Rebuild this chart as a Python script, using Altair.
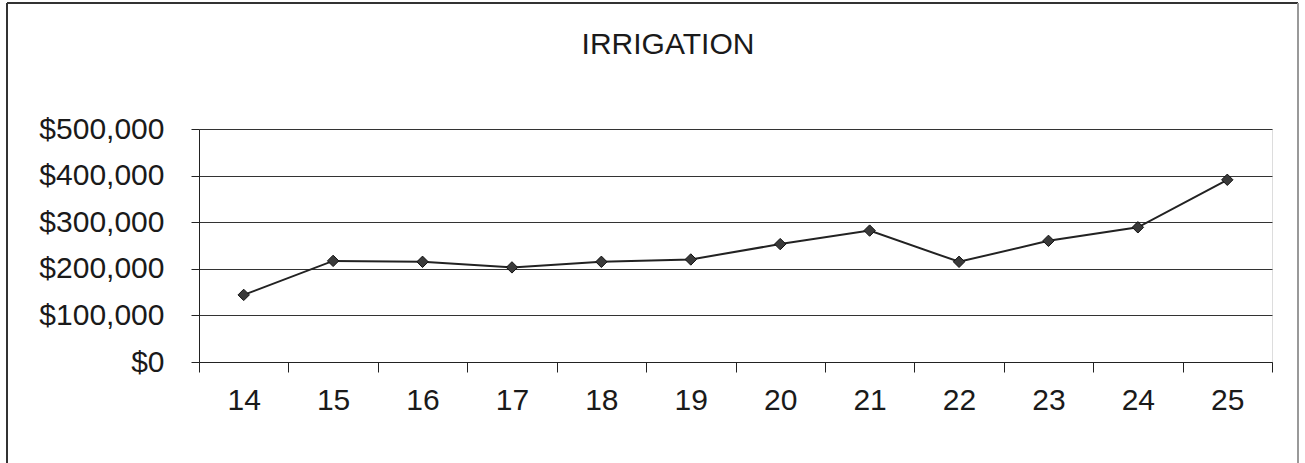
import altair as alt
import pandas as pd

years = ["14", "15", "16", "17", "18", "19", "20", "21", "22", "23", "24", "25"]
values = [144000, 217000, 215000, 203000, 215000, 220000, 253000, 282000, 215000, 260000, 289000, 391000]
y_ticks = [0, 100000, 200000, 300000, 400000, 500000]
chart_title = "IRRIGATION"

df = pd.DataFrame({"year": years, "value": values})

FONT = "Liberation Sans"
INK = "#222222"

x_enc = alt.X(
    "year:O",
    sort=years,
    scale=alt.Scale(type="band", paddingInner=0, paddingOuter=0),
    axis=alt.Axis(
        title=None, labelAngle=0, tickBand="extent", tickSize=10,
        labelPadding=13, labelFontSize=30, labelFont=FONT, labelColor="#1a1a1a",
        domainColor=INK, tickColor=INK, grid=False,
    ),
)
y_enc = alt.Y(
    "value:Q",
    scale=alt.Scale(domain=[0, 500000], nice=False),
    axis=alt.Axis(
        title=None, values=y_ticks, format="$,.0f", tickSize=8, labelPadding=27,
        labelFontSize=30, labelFont=FONT, labelColor="#1a1a1a",
        domainColor=INK, tickColor=INK, gridColor="#333333", gridWidth=1.2,
    ),
)

line = alt.Chart(df).mark_line(color=INK, strokeWidth=2).encode(x=x_enc, y=y_enc)
pts = alt.Chart(df).mark_point(
    shape="diamond", filled=True, size=130, color="#3a3a3a", stroke="#111111", strokeWidth=1, opacity=1
).encode(x=alt.X("year:O", sort=years), y="value:Q")

title_df = pd.DataFrame({"t": [chart_title]})
title_mark = alt.Chart(title_df).mark_text(
    font=FONT, fontSize=30, color="#1a1a1a", baseline="alphabetic", align="center"
).encode(text="t:N", x=alt.value(469), y=alt.value(-75))

frame_left = alt.Chart(df).mark_rule(color="#333333", strokeWidth=2).encode(
    x=alt.value(-192), y=alt.value(-126), y2=alt.value(360)
)
frame_top = alt.Chart(df).mark_rule(color="#333333", strokeWidth=2).encode(
    x=alt.value(-192), x2=alt.value(1099), y=alt.value(-126)
)
frame_right = alt.Chart(df).mark_rule(color="#999999", strokeWidth=2).encode(
    x=alt.value(1099), y=alt.value(-126), y2=alt.value(360)
)

chart = (
    alt.layer(line, pts, title_mark, frame_left, frame_top, frame_right)
    .properties(
        width=1073,
        height=233,
        padding={"left": 199, "top": 129, "right": 33, "bottom": 101},
        autosize=alt.AutoSizeParams(type="none"),
    )
    .configure_view(stroke="#888888", strokeWidth=1)
    .configure(background="white")
)

chart.save("out.html", embed_options={"renderer": "svg", "actions": False})
